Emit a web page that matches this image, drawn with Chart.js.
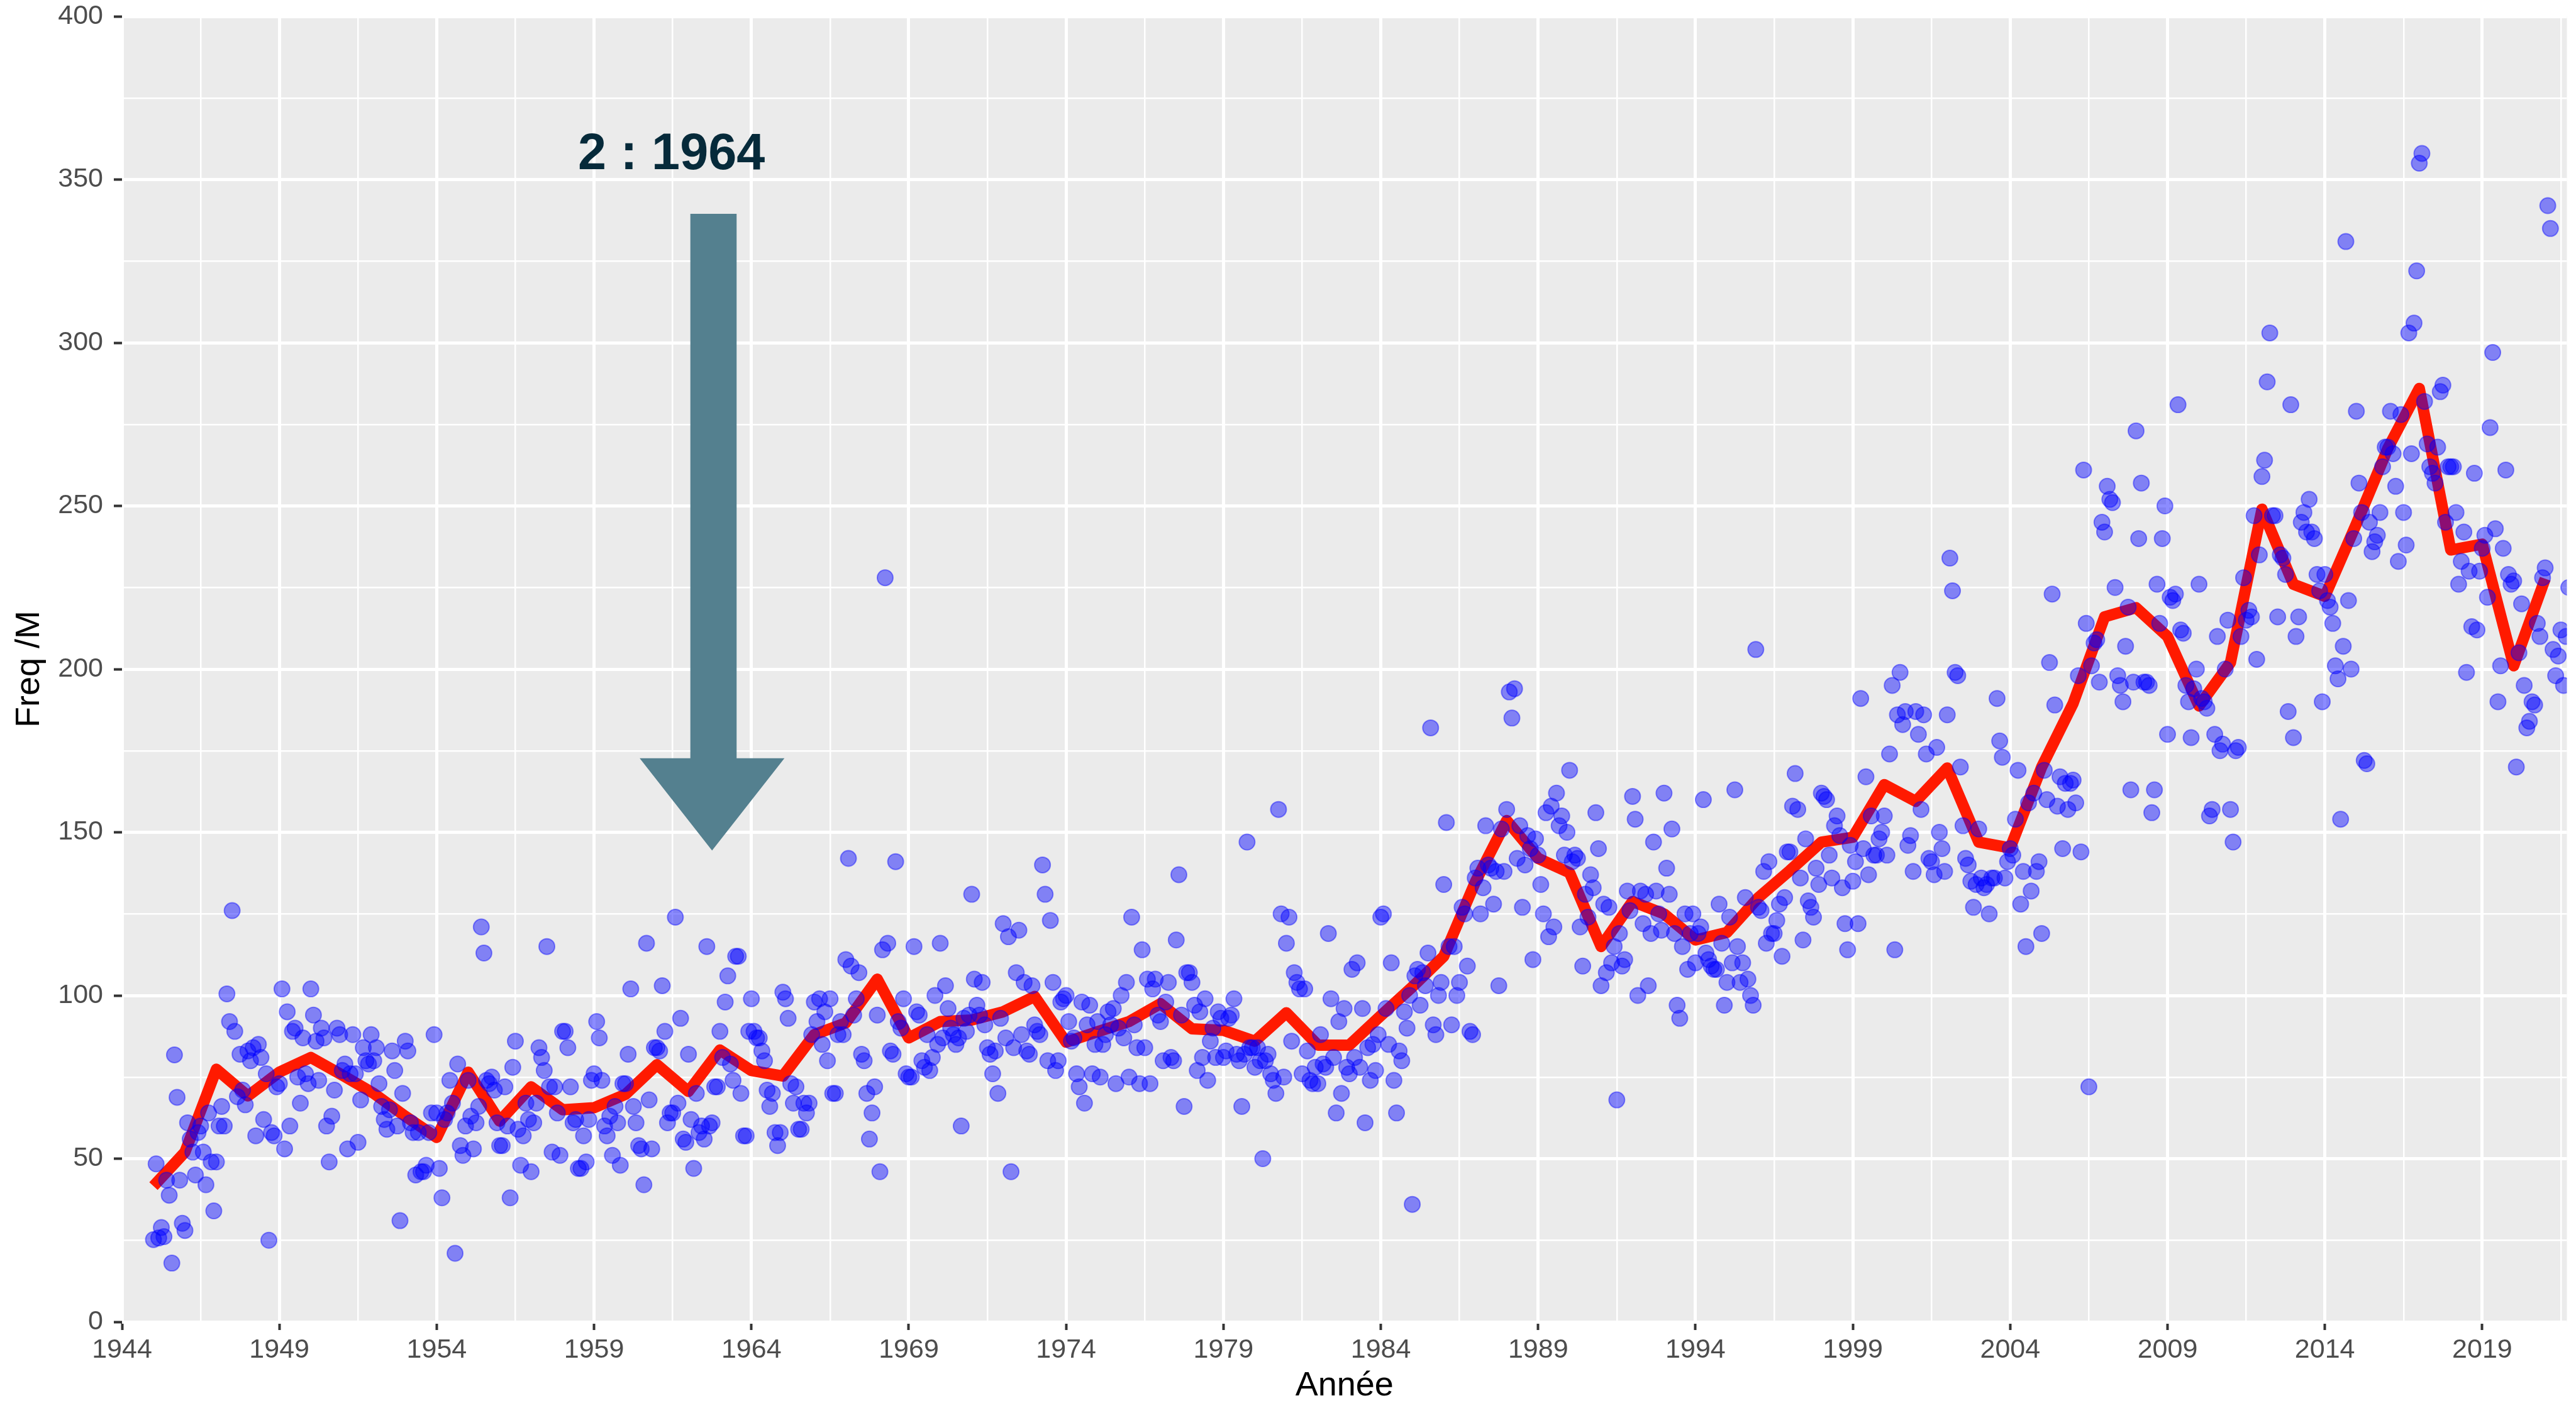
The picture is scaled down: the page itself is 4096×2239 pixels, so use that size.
<!DOCTYPE html>
<html>
<head>
<meta charset="utf-8">
<script src="https://cdn.jsdelivr.net/npm/chart.js@4.4.1/dist/chart.umd.min.js"></script>
<style>
  html, body { margin: 0; padding: 0; background: #fff; }
  canvas { display: block; }
</style>
</head>
<body>
<canvas id="freqChart" width="4096" height="2239"></canvas>
<script>
// Années (chaque année : 12 valeurs mensuelles + une moyenne annuelle)
const years = [
  1945, 1946, 1947, 1948, 1949, 1950, 1951, 1952, 1953, 1954,
  1955, 1956, 1957, 1958, 1959, 1960, 1961, 1962, 1963, 1964,
  1965, 1966, 1967, 1968, 1969, 1970, 1971, 1972, 1973, 1974,
  1975, 1976, 1977, 1978, 1979, 1980, 1981, 1982, 1983, 1984,
  1985, 1986, 1987, 1988, 1989, 1990, 1991, 1992, 1993, 1994,
  1995, 1996, 1997, 1998, 1999, 2000, 2001, 2002, 2003, 2004,
  2005, 2006, 2007, 2008, 2009, 2010, 2011, 2012, 2013, 2014,
  2015, 2016, 2017, 2018, 2019, 2020, 2021
];

// Moyenne annuelle (ligne rouge)
const yearlyMean = [
  41.6, 52, 77.4, 69.2, 76.5, 81, 75.6, 70, 63, 56.5,
  76.5, 61.5, 72, 65, 65.6, 69.7, 78.8, 70.6, 83.3, 77,
  75.3, 88, 91.6, 105, 87, 92, 92.5, 95, 99.7, 85.7,
  88.9, 92, 97.5, 89.8, 89.3, 86, 94.7, 84.8, 84.8, 93.8,
  102.6, 112, 134.7, 153.6, 142, 137.6, 115, 128.8, 125, 117,
  119.3, 130, 138.3, 147, 148.5, 164.6, 159.5, 169.7, 147, 145.2,
  170, 189.5, 216, 218.8, 210, 188.7, 202, 249, 226, 222.3,
  244.5, 267.6, 286, 236.5, 238.3, 201, 227.7
];

// Valeurs mensuelles (points bleus), une ligne par année
const freq1945s = [
  [25.2, 48.4, 25.7, 28.9, 26.1, 43.4, 38.8, 18, 81.8, 68.8, 43.4, 30.2],
  [28, 61, 56, 52, 45, 58, 60, 52, 42, 64, 49, 34],
  [49, 60, 66, 60, 100.5, 92, 126, 89, 69, 82, 71, 66.5],
  [83, 80, 84, 57, 85, 81, 62, 76, 25, 58, 57, 72],
  [73, 102, 53, 95, 60, 89, 90, 75, 67, 87, 76, 73],
  [102, 94, 86, 74, 90, 87, 60, 49, 63, 71, 90, 88],
  [77, 79, 53, 76, 88, 76, 55, 68, 84, 80, 79, 88],
  [80, 84, 73, 66, 62, 59, 65, 83, 77, 60, 31, 70],
  [86, 83, 61, 58, 45, 58, 46, 46, 48, 58, 64, 88],
  [64, 47, 38, 62, 64, 74, 67, 21, 79, 54, 51, 60]
];
const freq1955s = [
  [74, 63, 53, 61, 66, 121, 113, 74, 73, 75, 71, 61],
  [54, 54, 72, 60, 38, 78, 86, 59, 48, 57, 67, 62],
  [46, 61, 67, 84, 81, 77, 115, 72, 52, 72, 64, 51],
  [89, 89, 84, 72, 61, 62, 47, 47, 57, 49, 62, 74],
  [76, 92, 87, 74, 60, 57, 63, 51, 66, 61, 48, 73],
  [73, 82, 102, 66, 61, 54, 53, 42, 116, 68, 53, 84],
  [84, 83, 103, 89, 61, 64, 64, 124, 67, 93, 56, 55],
  [82, 62, 47, 70, 58, 60, 56, 115, 60, 61, 72, 72],
  [89, 81, 98, 106, 79, 74, 112, 112, 70, 57, 57, 89],
  [99, 89, 87, 87, 83, 80, 71, 66, 70, 58, 54, 58]
];
const freq1965s = [
  [101, 99, 93, 73, 67, 72, 59, 59, 67, 64, 67, 88],
  [98, 92, 99, 85, 95, 80, 99, 70, 70, 88, 92, 88],
  [111, 142, 109, 94, 99, 107, 82, 80, 70, 56, 64, 72],
  [94, 46, 114, 228, 116, 83, 82, 141, 92, 90, 99, 76],
  [75, 75, 115, 95, 94, 80, 78, 88, 77, 81, 100, 85],
  [116, 87, 103, 96, 90, 88, 85, 87, 60, 93, 89, 94],
  [131, 105, 97, 94, 104, 91, 84, 82, 76, 83, 70, 93],
  [122, 87, 118, 46, 84, 107, 120, 88, 104, 83, 82, 103],
  [91, 89, 88, 140, 131, 80, 123, 104, 77, 80, 98, 99],
  [100, 92, 86, 87, 76, 72, 98, 67, 91, 97, 76, 85]
];
const freq1975s = [
  [92, 75, 85, 88, 95, 91, 96, 73, 90, 100, 87, 104],
  [75, 124, 91, 84, 73, 114, 84, 105, 73, 102, 105, 94],
  [92, 80, 98, 104, 81, 80, 117, 137, 94, 66, 107, 107],
  [104, 97, 77, 95, 81, 99, 74, 86, 90, 81, 95, 93],
  [81, 83, 93, 94, 99, 82, 80, 66, 82, 147, 84, 84],
  [78, 84, 80, 50, 80, 82, 76, 74, 70, 157, 125, 75],
  [116, 124, 86, 107, 104, 102, 76, 102, 83, 74, 73, 78],
  [73, 88, 79, 78, 119, 99, 81, 64, 92, 70, 96, 78],
  [76, 108, 81, 110, 78, 96, 61, 84, 74, 85, 77, 88],
  [124, 125, 96, 85, 110, 74, 64, 83, 80, 95, 90, 100]
];
const freq1985s = [
  [36, 106, 108, 97, 107, 103, 113, 182, 91, 88, 100, 104],
  [134, 153, 115, 91, 115, 100, 104, 127, 125, 109, 89, 88],
  [136, 139, 125, 133, 152, 140, 139, 128, 138, 103, 151, 138],
  [157, 193, 185, 194, 142, 152, 127, 140, 149, 145, 111, 148],
  [143, 134, 125, 156, 118, 158, 121, 162, 152, 155, 143, 150],
  [169, 141, 143, 142, 121, 109, 131, 124, 137, 133, 156, 145],
  [103, 128, 107, 127, 110, 115, 68, 119, 109, 111, 132, 126],
  [161, 154, 100, 132, 122, 131, 103, 119, 147, 132, 125, 120],
  [162, 139, 131, 151, 119, 97, 93, 115, 125, 108, 119, 125],
  [110, 119, 121, 160, 113, 111, 109, 108, 108, 128, 116, 97]
];
const freq1995s = [
  [104, 124, 110, 163, 115, 104, 110, 130, 105, 100, 97, 206],
  [127, 126, 138, 116, 141, 119, 119, 123, 128, 112, 130, 144],
  [144, 158, 168, 157, 136, 117, 148, 129, 127, 124, 139, 134],
  [162, 161, 160, 143, 136, 152, 155, 149, 133, 122, 114, 146],
  [135, 141, 122, 191, 145, 167, 137, 155, 143, 143, 148, 150],
  [155, 143, 174, 195, 114, 186, 199, 183, 187, 146, 149, 138],
  [187, 180, 157, 186, 174, 142, 141, 137, 176, 150, 145, 138],
  [186, 234, 224, 199, 198, 170, 152, 142, 140, 135, 127, 134],
  [151, 136, 133, 134, 125, 136, 136, 191, 178, 173, 136, 141],
  [145, 143, 154, 169, 128, 138, 115, 159, 132, 162, 138, 141]
];
const freq2005s = [
  [119, 169, 160, 202, 223, 189, 158, 167, 145, 165, 157, 165],
  [166, 159, 198, 144, 261, 214, 72, 201, 208, 209, 196, 245],
  [242, 256, 252, 251, 225, 198, 195, 190, 207, 219, 163, 196],
  [273, 240, 257, 196, 196, 195, 156, 163, 226, 214, 240, 250],
  [180, 222, 221, 223, 281, 212, 211, 195, 190, 179, 194, 200],
  [226, 191, 190, 188, 155, 157, 180, 210, 175, 177, 200, 215],
  [157, 147, 175, 176, 210, 228, 215, 218, 216, 247, 203, 235],
  [259, 264, 288, 303, 247, 247, 216, 235, 234, 229, 187, 281],
  [179, 210, 216, 245, 248, 242, 252, 242, 240, 229, 224, 190],
  [229, 221, 219, 214, 201, 197, 154, 207, 331, 221, 200, 240]
];
const freq2015s = [
  [279, 257, 248, 172, 171, 245, 236, 239, 241, 248, 262, 268],
  [268, 279, 266, 256, 233, 278, 248, 238, 303, 266, 306, 322],
  [355, 358, 282, 269, 262, 260, 257, 268, 285, 287, 245, 262],
  [262, 262, 248, 226, 233, 242, 199, 230, 213, 260, 212, 230],
  [237, 241, 222, 274, 297, 243, 190, 201, 237, 261, 229, 226],
  [227, 170, 205, 220, 195, 182, 184, 190, 189, 214, 210, 228],
  [231, 342, 335, 206, 198, 204, 212, 195, 210, 225, 220, 200]
];

// Graduations
const xMajorTicks = [1944, 1949, 1954, 1959, 1964, 1969, 1974, 1979, 1984, 1989, 1994, 1999, 2004, 2009, 2014, 2019];
const yMajorTicks = [0, 50, 100, 150, 200, 250, 300, 350, 400];

const noteText = '2 : 1964';

// Construction des jeux de données
const monthlyRows = [].concat(freq1945s, freq1955s, freq1965s, freq1975s, freq1985s, freq1995s, freq2005s, freq2015s);
const monthlyPoints = [];
monthlyRows.forEach(function(row, i) {
  row.forEach(function(v, m) {
    monthlyPoints.push({ x: years[i] + m / 12, y: v });
  });
});
const meanPoints = years.map(function(yr, i) { return { x: yr, y: yearlyMean[i] }; });

const xGrid = [];
for (let v = 1944; v <= 2021.69; v += 2.5) xGrid.push(v);
const yGrid = [];
for (let v = 0; v <= 400; v += 25) yGrid.push(v);

const FONT = '"Liberation Sans", Arial, Helvetica, sans-serif';

// Fond gris du panneau (style ggplot)
const panelBackground = {
  id: 'panelBackground',
  beforeDraw(chart) {
    const { ctx, chartArea: a } = chart;
    ctx.save();
    ctx.fillStyle = '#ffffff';
    ctx.fillRect(0, 0, chart.width, chart.height);
    ctx.fillStyle = '#EBEBEB';
    ctx.fillRect(a.left, a.top, a.right - a.left, a.bottom - a.top);
    ctx.restore();
  }
};

// Flèche + texte d'annotation
const arrowNote = {
  id: 'arrowNote',
  afterDatasetsDraw(chart) {
    const { ctx, scales: { x, y } } = chart;
    const px = v => x.getPixelForValue(v);
    const py = v => y.getPixelForValue(v);
    ctx.save();
    ctx.fillStyle = '#54808F';
    ctx.beginPath();
    ctx.moveTo(px(1962.06), py(339.5));
    ctx.lineTo(px(1963.53), py(339.5));
    ctx.lineTo(px(1963.53), py(172.7));
    ctx.lineTo(px(1965.05), py(172.7));
    ctx.lineTo(px(1962.75), py(144.4));
    ctx.lineTo(px(1960.45), py(172.7));
    ctx.lineTo(px(1962.06), py(172.7));
    ctx.closePath();
    ctx.fill();

    ctx.font = 'bold 81px ' + FONT;
    ctx.fillStyle = '#062A3A';
    ctx.textAlign = 'center';
    ctx.textBaseline = 'alphabetic';
    ctx.fillText(noteText, px(1961.46), py(353.1));
    ctx.restore();
  }
};

new Chart(document.getElementById('freqChart'), {
  type: 'scatter',
  data: {
    datasets: [
      {
        type: 'line',
        label: 'Moyenne annuelle',
        data: meanPoints,
        borderColor: '#FF1A00',
        borderWidth: 18,
        borderCapStyle: 'butt',
        borderJoinStyle: 'round',
        pointRadius: 0,
        fill: false,
        tension: 0,
        order: 2
      },
      {
        type: 'scatter',
        label: 'Freq /M',
        data: monthlyPoints,
        pointRadius: 12.5,
        pointBackgroundColor: 'rgba(0, 0, 255, 0.45)',
        pointBorderColor: 'rgba(0, 0, 255, 0.42)',
        pointBorderWidth: 2,
        order: 1
      }
    ]
  },
  options: {
    responsive: false,
    animation: false,
    devicePixelRatio: 1,
    events: [],
    layout: { padding: { top: 26, right: 0, bottom: 0, left: 0 } },
    plugins: {
      legend: { display: false },
      tooltip: { enabled: false }
    },
    scales: {
      x: {
        type: 'linear',
        min: 1944,
        max: 2021.69,
        afterBuildTicks: function(s) { s.ticks = xGrid.map(v => ({ value: v })); },
        afterFit: function(s) {
          s.height = 137;
          s.paddingLeft = 0;
          s.paddingRight = 0;
        },
        border: { display: false },
        grid: {
          color: '#FFFFFF',
          lineWidth: c => (xMajorTicks.includes(c.tick.value) ? 5 : 2.5),
          drawTicks: true,
          tickLength: 13,
          tickWidth: 4,
          tickColor: c => (xMajorTicks.includes(c.tick.value) ? '#333333' : 'rgba(0,0,0,0)')
        },
        ticks: {
          autoSkip: false,
          maxRotation: 0,
          minRotation: 0,
          padding: 6,
          color: '#4D4D4D',
          font: { family: FONT, size: 43 },
          callback: v => (xMajorTicks.includes(v) ? String(v) : '')
        },
        title: {
          display: true,
          text: 'Année',
          color: '#000000',
          font: { family: FONT, size: 54 },
          padding: { top: 0, bottom: 2 }
        }
      },
      y: {
        type: 'linear',
        min: 0,
        max: 400,
        afterBuildTicks: function(s) { s.ticks = yGrid.map(v => ({ value: v })); },
        afterFit: function(s) {
          s.width = 194;
          s.paddingTop = 0;
          s.paddingBottom = 0;
        },
        border: { display: false },
        grid: {
          color: '#FFFFFF',
          lineWidth: c => (yMajorTicks.includes(c.tick.value) ? 5 : 2.5),
          drawTicks: true,
          tickLength: 13,
          tickWidth: 4,
          tickColor: c => (yMajorTicks.includes(c.tick.value) ? '#333333' : 'rgba(0,0,0,0)')
        },
        ticks: {
          autoSkip: false,
          padding: 17,
          color: '#4D4D4D',
          font: { family: FONT, size: 43 },
          callback: v => (yMajorTicks.includes(v) ? String(v) : '')
        },
        title: {
          display: true,
          text: 'Freq /M',
          color: '#000000',
          font: { family: FONT, size: 54 },
          padding: { top: 15, bottom: 0 }
        }
      }
    }
  },
  plugins: [panelBackground, arrowNote]
});
</script>
</body>
</html>
